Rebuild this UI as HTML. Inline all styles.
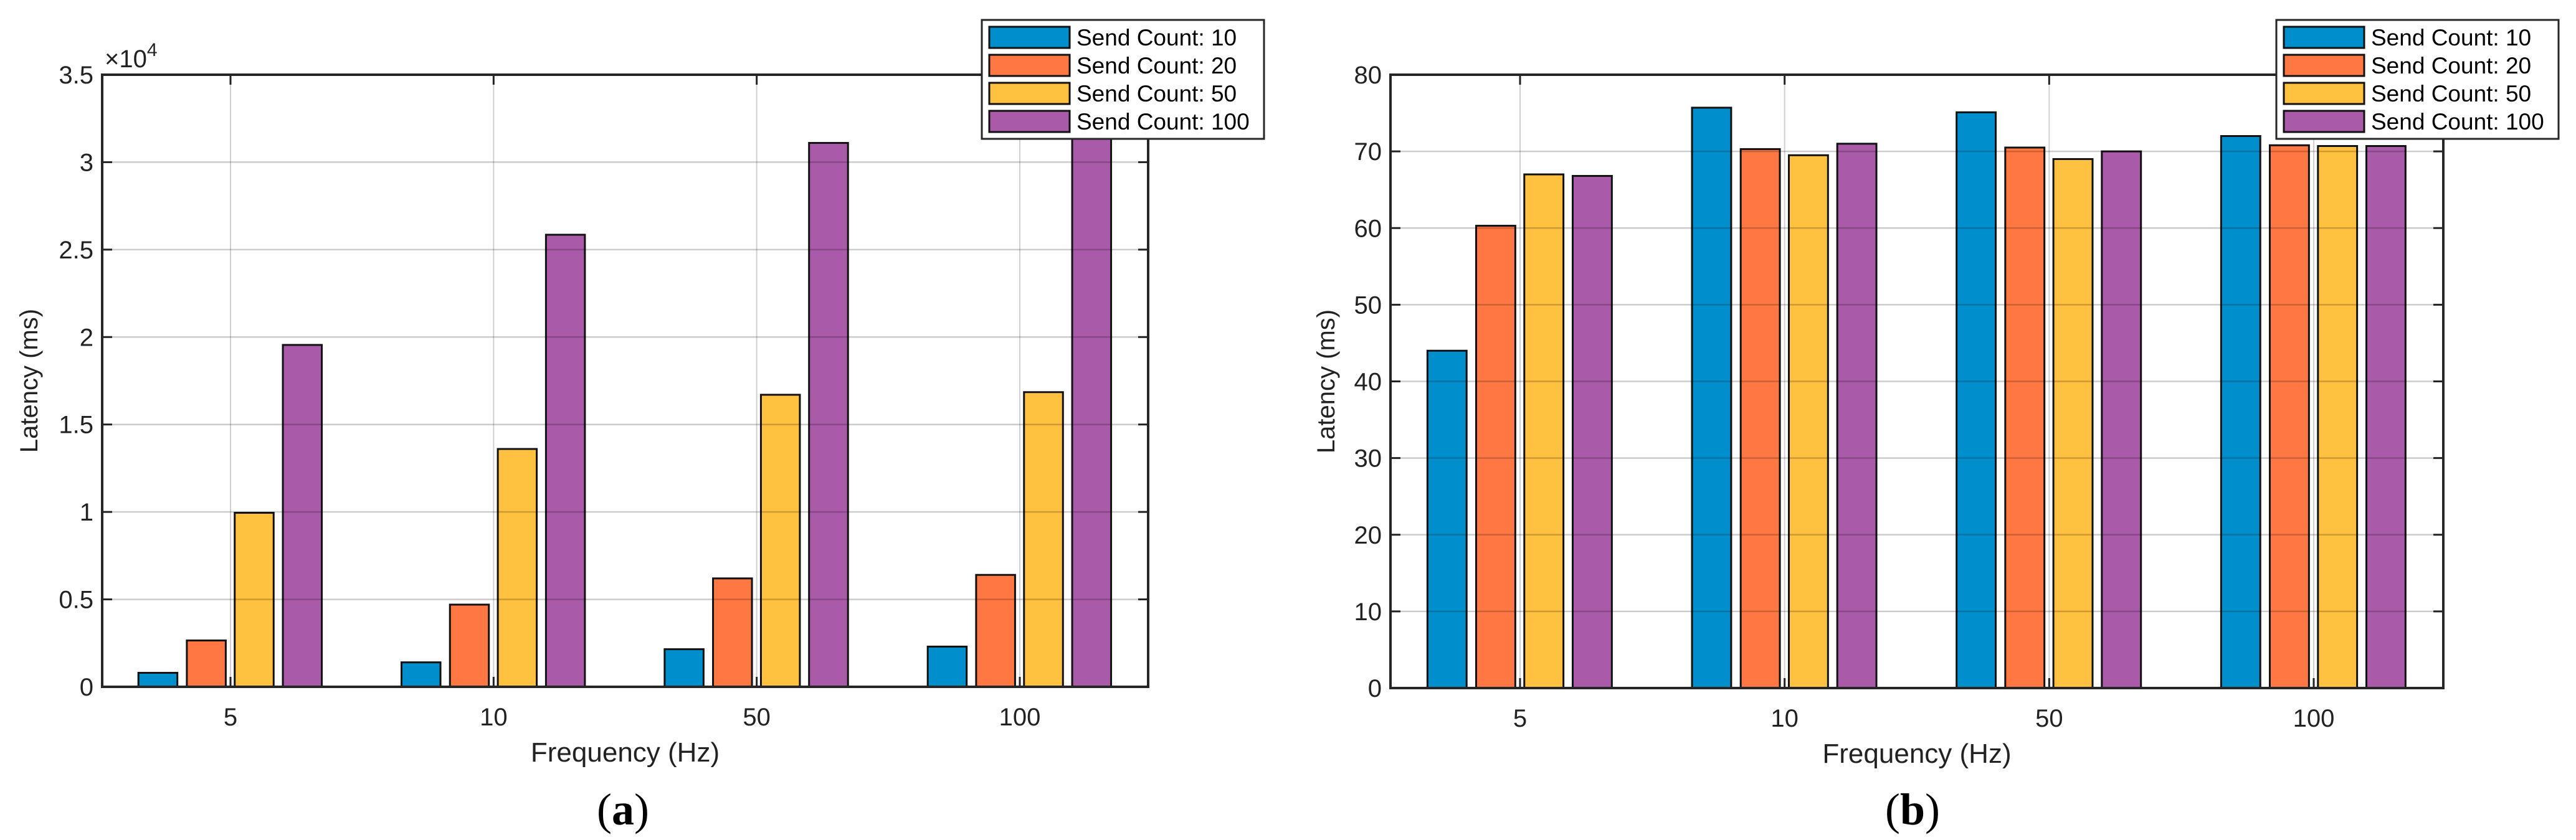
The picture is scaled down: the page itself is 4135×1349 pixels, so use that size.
<!DOCTYPE html>
<html><head><meta charset="utf-8">
<style>
html,body{margin:0;padding:0;background:#fff;}
svg{display:block;font-family:"Liberation Sans",Arial,sans-serif;}
</style></head>
<body>
<svg id="fig" width="4135" height="1349" viewBox="0 0 4135 1349" xmlns="http://www.w3.org/2000/svg"></svg>
<script>
const categories = ["5","10","50","100"];
const seriesNames = ["Send Count: 10","Send Count: 20","Send Count: 50","Send Count: 100"];
const colors = ["#008fcd","#ff7843","#ffc13f","#a95aa8"];
// chart (a) values, in units of 10^4 ms
const aS10 = [0.08, 0.14, 0.215, 0.23];
const aS20 = [0.265, 0.47, 0.62, 0.64];
const aS50 = [0.995, 1.36, 1.67, 1.685];
const aS100 = [1.955, 2.585, 3.11, 3.4];
const aTicks = ["0","0.5","1","1.5","2","2.5","3","3.5"];
const aTickVals = [0,0.5,1,1.5,2,2.5,3,3.5];
// chart (b) values, ms
const bS10 = [44, 75.7, 75.1, 72];
const bS20 = [60.3, 70.3, 70.5, 70.8];
const bS50 = [67, 69.5, 69, 70.7];
const bS100 = [66.8, 71, 70, 70.7];
const bTicks = ["0","10","20","30","40","50","60","70","80"];
const bTickVals = [0,10,20,30,40,50,60,70,80];

const NS="http://www.w3.org/2000/svg";
const svg=document.getElementById('fig');
function el(tag,attrs,parent){const e=document.createElementNS(NS,tag);for(const k in attrs)e.setAttribute(k,attrs[k]);(parent||svg).appendChild(e);return e;}

function chart(cfg){
  const g=el('g',{});
  
  
  const {L,R,T,B,ymax}=cfg;
  const y=v=>B-(v/ymax)*(B-T);
  const off=cfg.edge;
  const sp=(R-L-2*off)/(categories.length-1);
  const xc=i=>L+off+i*sp;
  const offs=[-0.276,-0.092,0.09,0.273];
  const bw=0.148*sp;
  categories.forEach((c,i)=>{
    const l=el('line',{x1:xc(i),x2:xc(i),y1:T,y2:B,stroke:'#d0d0d0','stroke-width':2},g);
    
    
  });
  cfg.series.forEach((arr,s)=>{
    arr.forEach((v,i)=>{
      const top=Math.max(y(v),T);
      const r=el('rect',{x:xc(i)+offs[s]*sp-bw/2,y:top,width:bw,height:B-top,fill:colors[s],stroke:'#111','stroke-width':3},g);
      
      
    });
  });
  cfg.tickVals.forEach((v,k)=>{
    const gl=el('line',{x1:L,x2:R,y1:y(v),y2:y(v),stroke:'rgba(0,0,0,0.2)','stroke-width':2.5},g);
    
    
    el('line',{x1:L,x2:L+16,y1:y(v),y2:y(v),stroke:'#222','stroke-width':3},g);
    el('line',{x1:R-16,x2:R,y1:y(v),y2:y(v),stroke:'#222','stroke-width':3},g);
    const t=el('text',{x:L-14,y:y(v)+14,'text-anchor':'end','font-size':40,fill:'#222'},g);
    t.textContent=cfg.ticks[k];
    
    
  });
  categories.forEach((c,i)=>{
    el('line',{x1:xc(i),x2:xc(i),y1:T,y2:T+16,stroke:'#222','stroke-width':3},g);
    el('line',{x1:xc(i),x2:xc(i),y1:B-16,y2:B,stroke:'#222','stroke-width':3},g);
    const t=el('text',{x:xc(i),y:B+62,'text-anchor':'middle','font-size':40,fill:'#222'},g);
    t.textContent=c;
    
    
  });
  const box=el('rect',{x:L,y:T,width:R-L,height:B-T,fill:'none',stroke:'#262626','stroke-width':4},g);
  
  
  const xl=el('text',{x:(L+R)/2,y:B+120,'text-anchor':'middle','font-size':44,fill:'#222'},g);
  xl.textContent='Frequency (Hz)';
  
  
  const yl=el('text',{x:0,y:0,'text-anchor':'middle','font-size':40,fill:'#222',transform:`translate(${cfg.ylx},${(T+B)/2}) rotate(-90)`},g);
  yl.textContent='Latency (ms)';
  
  
  const lg=el('g',{},g);
  
  
  el('rect',{x:cfg.legX,y:32,width:453,height:191,fill:'#fff',stroke:'#262626','stroke-width':3},lg);
  seriesNames.forEach((n,s)=>{
    const cy=60+45*s;
    const sw=el('rect',{x:cfg.legX+12,y:cy-17,width:129,height:34,fill:colors[s],stroke:'#111','stroke-width':3},lg);
    
    
    const t=el('text',{x:cfg.legX+152,y:cy+13,'font-size':37,fill:'#000'},lg);
    t.textContent=n;
    
    
  });
  const cap=el('text',{x:cfg.capX,y:1324,'text-anchor':'middle','font-size':72,'font-family':'"Liberation Serif",serif',fill:'#000'},g);
  cap.innerHTML='(<tspan font-weight="bold">'+cfg.cap+'</tspan>)';
  
  
  return g;
}

chart({name:'chart-a',L:164,R:1843,T:120,B:1103,ymax:3.5,edge:206,series:[aS10,aS20,aS50,aS100],ticks:aTicks,tickVals:aTickVals,ylx:60,legX:1576,capX:1000,cap:'a'});
chart({name:'chart-b',L:2232,R:3922,T:120,B:1105,ymax:80,edge:208,series:[bS10,bS20,bS50,bS100],ticks:bTicks,tickVals:bTickVals,ylx:2142,legX:3654,capX:3070,cap:'b'});
const ex=el('text',{x:168,y:108,'font-size':40,fill:'#222'});
ex.innerHTML='×10<tspan font-size="30" dy="-18">4</tspan>';


</script>
</body></html>
